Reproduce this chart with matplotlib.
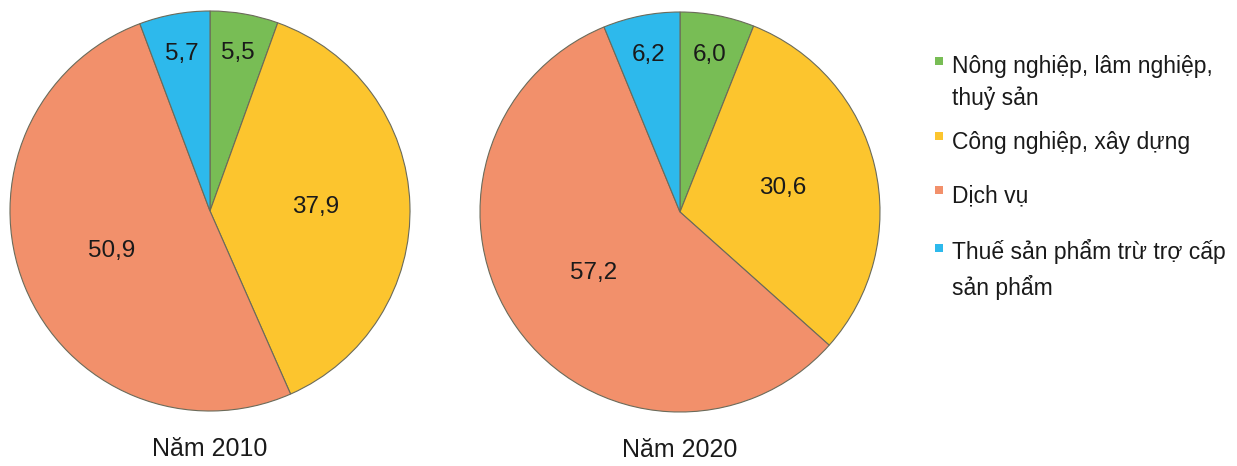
import matplotlib
matplotlib.use("Agg")
import matplotlib.pyplot as plt
from matplotlib.patches import Rectangle
import numpy as np

plt.rcParams['font.family'] = ['Liberation Sans', 'DejaVu Sans']

# data
categories = ['Nông nghiệp, lâm nghiệp,\nthuỷ sản', 'Công nghiệp, xây dựng',
              'Dịch vụ', 'Thuế sản phẩm trừ trợ cấp\nsản phẩm']
years = ['Năm 2010', 'Năm 2020']
vals_2010 = [5.5, 37.9, 50.9, 5.7]
vals_2020 = [6.0, 30.6, 57.2, 6.2]
colors = ['#78bd55', '#fcc52e', '#f2906b', '#2db9ec']

W, H = 1237, 466
fig = plt.figure(figsize=(W / 100, H / 100), dpi=100)


def pie_axes(cx, cy, r):
    # cx, cy, r in pixels (y from top)
    pad = r * 1.02
    return fig.add_axes([(cx - pad) / W, (H - cy - pad) / H, 2 * pad / W, 2 * pad / H])


def draw(ax, vals, title):
    wedges, _ = ax.pie(vals, colors=colors, startangle=90, counterclock=False,
                       wedgeprops=dict(edgecolor='#6b6b5a', linewidth=0.8))
    ax.set_xlim(-1.02, 1.02)
    ax.set_ylim(-1.02, 1.02)
    ax.set_aspect('equal')
    for w, v in zip(wedges, vals):
        ang = np.deg2rad((w.theta1 + w.theta2) / 2)
        rr = 0.8 if v < 10 else 0.53
        ax.text(rr * np.cos(ang), rr * np.sin(ang), f'{v:.1f}'.replace('.', ','),
                ha='center', va='center', fontsize=17.5, color='#1a1a1a', clip_on=False)
    ax.text(0, -1.19, title, ha='center', va='center', fontsize=18, color='#1a1a1a',
            clip_on=False)


ax1 = pie_axes(210, 211, 200)
draw(ax1, vals_2010, years[0])
ax2 = pie_axes(680, 212, 200)
draw(ax2, vals_2020, years[1])

# legend drawn by hand (y of first text line, pixels from top)
leg_y = [67, 142, 196, 254]
for c, lab, y in zip(colors, categories, leg_y):
    fig.patches.append(Rectangle((935 / W, (H - y + 2) / H), 8 / W, 8 / H,
                                 transform=fig.transFigure, facecolor=c,
                                 edgecolor='none'))
    n = lab.count('\n')
    # put center of the whole block so the first line lands on y
    yc = y + n * 31 / 2
    fig.text(952 / W, (H - yc) / H, lab, ha='left', va='center',
             fontsize=16.5, color='#1a1a1a', linespacing=1.5)

fig.savefig('out.png', dpi=100, facecolor='white')
